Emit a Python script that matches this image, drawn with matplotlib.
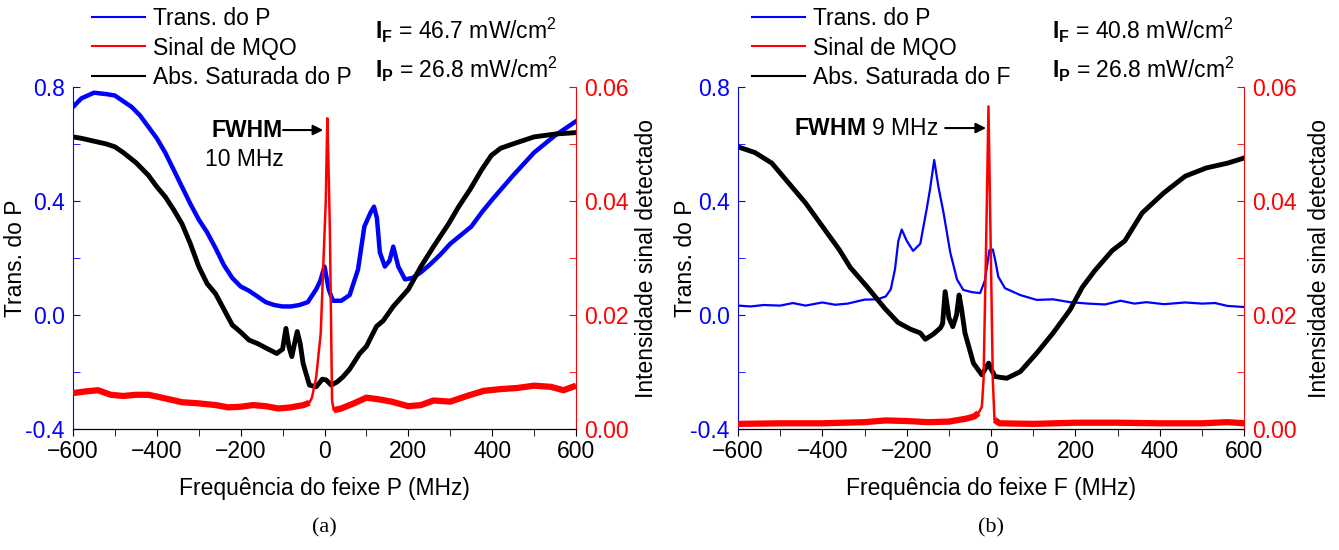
"""Espectros de transmissão / absorção saturada e sinal de MQO, painéis (a) e (b)."""

import matplotlib
matplotlib.use("Agg")
import matplotlib.pyplot as plt
from matplotlib.lines import Line2D
from matplotlib.ticker import MultipleLocator, FormatStrFormatter

plt.rcParams["font.family"] = ["Liberation Sans", "DejaVu Sans"]
plt.rcParams["mathtext.fontset"] = "custom"
plt.rcParams["mathtext.rm"] = "Liberation Sans"
plt.rcParams["mathtext.bf"] = "Liberation Sans:bold"

BLUE = "#0000FF"
RED = "#FF0000"
FS = 16.5

# ─── painel (a) : varredura do feixe P ───────────────────────────────────────
trans_a_x = [-600, -580, -550, -520, -500, -480, -460, -440, -420, -400, -380,
             -360, -340, -320, -300, -280, -260, -240, -220, -200, -180, -160,
             -140, -120, -100, -80, -60, -40, -20, -10, 0, 10, 20, 40, 60, 80,
             95, 110, 118, 125, 132, 144, 155, 164, 176, 192, 210, 230, 250,
             275, 300, 325, 350, 375, 400, 450, 500, 550, 600]
trans_a_y = [0.73, 0.76, 0.78, 0.775, 0.77, 0.75, 0.73, 0.70, 0.66, 0.62, 0.57,
             0.51, 0.45, 0.39, 0.335, 0.29, 0.235, 0.175, 0.13, 0.10, 0.085,
             0.065, 0.045, 0.035, 0.03, 0.03, 0.035, 0.045, 0.09, 0.12, 0.17,
             0.09, 0.05, 0.05, 0.07, 0.16, 0.31, 0.36, 0.38, 0.34, 0.22, 0.17,
             0.19, 0.24, 0.17, 0.125, 0.13, 0.15, 0.175, 0.21, 0.25, 0.28, 0.31,
             0.36, 0.405, 0.49, 0.57, 0.63, 0.68]

abs_a_x = [-600, -580, -550, -520, -500, -480, -450, -420, -400, -380, -360,
           -340, -320, -300, -280, -260, -240, -220, -200, -180, -160, -138,
           -114, -100, -92, -85, -78, -70, -65, -58, -51, -36, -20, -5, 4, 16,
           30, 44, 60, 84, 100, 124, 140, 164, 200, 230, 260, 296, 320, 347,
           375, 398, 420, 449, 500, 550, 600]
abs_a_y = [0.625, 0.62, 0.61, 0.60, 0.59, 0.57, 0.535, 0.49, 0.45, 0.415, 0.37,
           0.32, 0.25, 0.17, 0.11, 0.075, 0.02, -0.035, -0.06, -0.088, -0.10,
           -0.117, -0.135, -0.12, -0.047, -0.11, -0.146, -0.09, -0.058, -0.10,
           -0.17, -0.246, -0.252, -0.225, -0.228, -0.246, -0.235, -0.217, -0.19,
           -0.135, -0.11, -0.04, -0.02, 0.03, 0.09, 0.17, 0.24, 0.32, 0.38,
           0.44, 0.51, 0.56, 0.585, 0.60, 0.625, 0.635, 0.64]

mqo_a_x = [-600, -570, -540, -510, -480, -450, -420, -400, -370, -340, -300,
           -260, -230, -200, -170, -140, -110, -80, -50, -36, -30, -20, -9, -3,
           3, 6.7, 10, 13, 18, 22, 40, 70, 100, 130, 160, 200, 230, 260, 300,
           340, 380, 420, 460, 500, 540, 570, 600]
mqo_a_y = [0.0063, 0.0066, 0.0068, 0.0060, 0.0058, 0.0060, 0.0060, 0.0057,
           0.0052, 0.0047, 0.0045, 0.0042, 0.0038, 0.0039, 0.0042, 0.0040,
           0.0036, 0.0038, 0.0042, 0.0046, 0.0055, 0.009, 0.0168, 0.0285,
           0.040, 0.0545, 0.045, 0.034, 0.005, 0.0033, 0.0036, 0.0045, 0.0055,
           0.0052, 0.0048, 0.0040, 0.0042, 0.0050, 0.0048, 0.0058, 0.0067,
           0.0070, 0.0072, 0.0076, 0.0074, 0.0068, 0.0076]

# ─── painel (b) : varredura do feixe F ───────────────────────────────────────
trans_b_x = [-600, -570, -540, -500, -470, -440, -400, -370, -340, -300, -270,
             -250, -238, -228, -220, -212, -200, -185, -168, -153, -145, -135,
             -125, -113, -97, -81, -66, -45, -26, -15, -4, 4, 10, 17, 33, 69,
             108, 147, 187, 230, 270, 307, 340, 368, 410, 460, 500, 531, 560,
             600]
trans_b_y = [0.033, 0.030, 0.035, 0.033, 0.042, 0.033, 0.044, 0.036, 0.040,
             0.054, 0.055, 0.065, 0.09, 0.16, 0.26, 0.30, 0.26, 0.225, 0.25,
             0.37, 0.44, 0.544, 0.45, 0.36, 0.22, 0.125, 0.088, 0.08, 0.077,
             0.12, 0.228, 0.23, 0.19, 0.134, 0.094, 0.07, 0.053, 0.055, 0.045,
             0.04, 0.037, 0.05, 0.04, 0.045, 0.038, 0.044, 0.04, 0.042, 0.032,
             0.028]

abs_b_x = [-600, -560, -520, -480, -440, -400, -360, -334, -293, -252, -221,
           -191, -168, -156, -137, -120, -115, -109, -100, -91, -82, -76, -70,
           -62, -42, -22, -6, 0, 9.5, 37, 69, 108, 147, 187, 216, 246, 287,
           317, 358, 409, 460, 510, 561, 600]
abs_b_y = [0.59, 0.57, 0.533, 0.463, 0.393, 0.311, 0.229, 0.167, 0.097, 0.023,
           -0.026, -0.05, -0.063, -0.085, -0.067, -0.045, -0.03, 0.082, -0.01,
           -0.041, 0.0, 0.07, 0.02, -0.063, -0.169, -0.21, -0.169, -0.19,
           -0.216, -0.222, -0.199, -0.134, -0.063, 0.018, 0.097, 0.156, 0.226,
           0.26, 0.358, 0.428, 0.487, 0.516, 0.533, 0.551]

mqo_b_x = [-600, -500, -400, -300, -250, -200, -150, -100, -60, -40, -30, -22,
           -18, -12, -6.3, -1, 4, 8, 20, 100, 200, 300, 400, 500, 560, 600]
mqo_b_y = [0.0009, 0.0010, 0.0010, 0.0012, 0.0015, 0.0014, 0.0012, 0.0013,
           0.0018, 0.0022, 0.0028, 0.0039, 0.0086, 0.032, 0.0566, 0.032,
           0.0086, 0.0016, 0.0010, 0.0009, 0.0011, 0.0011, 0.0010, 0.0010,
           0.0012, 0.0010]


def plot_mqo(ax, xs, ys, lo, hi):
    """Linha fina no pico; nas asas (ruidosas no original) um traço mais grosso."""
    ax.plot(xs, ys, color=RED, lw=1.8)
    for keep in (lambda x: x <= lo, lambda x: x >= hi):
        sx = [x for x in xs if keep(x)]
        sy = [y for x, y in zip(xs, ys) if keep(x)]
        ax.plot(sx, sy, color=RED, lw=4.5, solid_capstyle="butt")


def draw_panel(ax, trans, absr, mqo, wing, beam, abs_label, i_f, fwhm_mode,
               tag, lw_blue, leg_x, txt_x, ylab_x, rlab_pad):
    ax2 = ax.twinx()
    ax.plot(*trans, color=BLUE, lw=lw_blue)
    ax.plot(*absr, color="k", lw=3.5)
    plot_mqo(ax2, *mqo, *wing)

    ax.set_xlim(-600, 600)
    ax.set_ylim(-0.4, 0.8)
    ax2.set_ylim(0.0, 0.06)

    ax.xaxis.set_major_locator(MultipleLocator(200))
    ax.xaxis.set_minor_locator(MultipleLocator(100))
    ax.yaxis.set_major_locator(MultipleLocator(0.4))
    ax.yaxis.set_minor_locator(MultipleLocator(0.2))
    ax.yaxis.set_major_formatter(FormatStrFormatter("%.1f"))
    ax2.yaxis.set_major_locator(MultipleLocator(0.02))
    ax2.yaxis.set_minor_locator(MultipleLocator(0.01))
    ax2.yaxis.set_major_formatter(FormatStrFormatter("%.2f"))

    ax.tick_params(axis="x", which="both", direction="out", length=5,
                   labelsize=FS, pad=3)
    ax.tick_params(axis="y", which="both", direction="in", length=5,
                   colors=BLUE, labelsize=FS, pad=6)
    ax2.tick_params(axis="y", which="both", direction="in", length=5,
                    colors=RED, labelsize=FS, pad=6)

    for a in (ax, ax2):
        a.spines["top"].set_visible(False)
    ax.spines["right"].set_visible(False)
    ax2.spines["left"].set_visible(False)
    ax.spines["left"].set_color(BLUE)
    ax2.spines["right"].set_color(RED)

    ax.set_xlabel(f"Frequência do feixe {beam} (MHz)", fontsize=FS, labelpad=10)
    ax.set_ylabel("Trans. do P", fontsize=FS)
    ax.yaxis.set_label_coords(ylab_x, 0.5)
    ax2.set_ylabel("Intensidade sinal detectado", fontsize=FS, labelpad=rlab_pad)

    handles = [Line2D([], [], color=BLUE, lw=1.5),
               Line2D([], [], color=RED, lw=1.5),
               Line2D([], [], color="k", lw=1.5)]
    ax.legend(handles, ["Trans. do P", "Sinal de MQO", abs_label],
              loc="upper left", bbox_to_anchor=(leg_x, 1.235), frameon=False,
              fontsize=FS, handlelength=2.3, handletextpad=0.35,
              labelspacing=0.3, borderpad=0, borderaxespad=0)

    ax.text(txt_x, 1.165, r"$\mathbf{I}_{\mathbf{F}}$ = " + f"{i_f} mW/cm$^2$",
            transform=ax.transAxes, fontsize=FS, va="center")
    ax.text(txt_x, 1.05, r"$\mathbf{I}_{\mathbf{P}}$ = 26.8 mW/cm$^2$",
            transform=ax.transAxes, fontsize=FS, va="center")

    arrow = dict(arrowstyle="-|>", color="k", lw=1.5, mutation_scale=15,
                 shrinkA=0, shrinkB=0)
    if fwhm_mode == "a":
        ax.text(-99, 0.649, "FWHM", fontsize=FS, fontweight="bold",
                ha="right", va="center")
        ax.text(-190, 0.544, "10 MHz", fontsize=FS, ha="center", va="center")
        ax.annotate("", xy=(-3, 0.649), xytext=(-99, 0.649), arrowprops=arrow)
    else:
        ax.text(-126, 0.656, r"$\mathbf{FWHM}$ 9 MHz", fontsize=FS,
                ha="right", va="center")
        ax.annotate("", xy=(-12, 0.656), xytext=(-109, 0.656),
                    arrowprops=arrow)

    ax.text(0.5, -0.29, tag, transform=ax.transAxes, ha="center", va="center",
            fontsize=16, family=["Liberation Serif", "DejaVu Serif"])


def main() -> None:
    fig = plt.figure(figsize=(13.39, 5.5), dpi=100)
    ax_a = fig.add_axes([0.0545, 0.22, 0.3757, 0.6218])
    ax_b = fig.add_axes([0.5512, 0.22, 0.3780, 0.6218])

    draw_panel(ax_a, (trans_a_x, trans_a_y), (abs_a_x, abs_a_y),
               (mqo_a_x, mqo_a_y), (-36, 22), "P", "Abs. Saturada do P",
               "46.7", "a", "(a)", 3.2, 0.038, 0.60, -0.092, 4)
    draw_panel(ax_b, (trans_b_x, trans_b_y), (abs_b_x, abs_b_y),
               (mqo_b_x, mqo_b_y), (-30, 8), "F", "Abs. Saturada do F",
               "40.8", "b", "(b)", 1.6, 0.028, 0.62, -0.081, 8)

    fig.savefig("out.png", dpi=100)
    plt.close(fig)


if __name__ == "__main__":
    main()
